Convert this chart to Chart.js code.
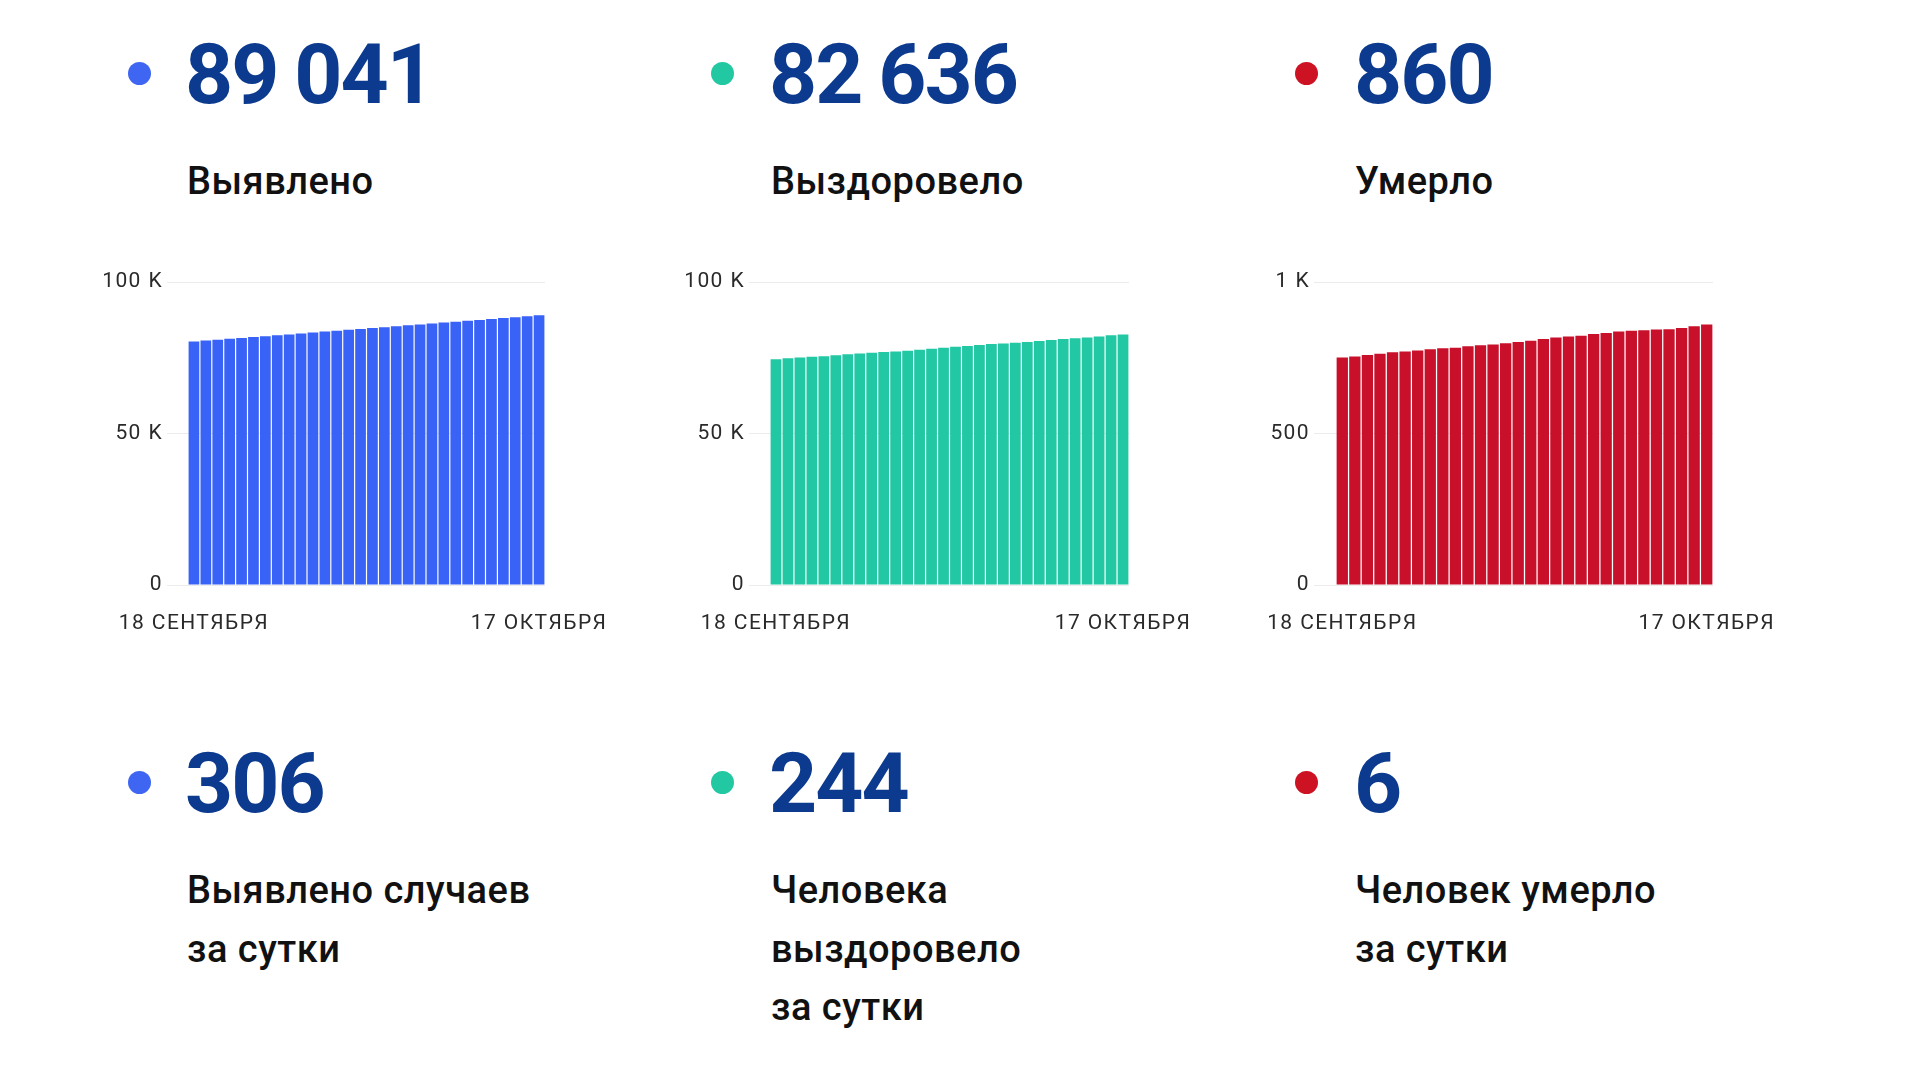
<!DOCTYPE html>
<html>
<head>
<meta charset="utf-8">
<script src="https://cdn.jsdelivr.net/npm/chart.js@4"></script>
<style>
  body { margin: 0; width: 1920px; height: 1080px; background: #fff; position: relative; overflow: hidden; font-family: Roboto, sans-serif; }
  .dot { position: absolute; width: 23px; height: 23px; border-radius: 50%; }
  .num { position: absolute; font-size: 84px; line-height: 84px; font-weight: 700; color: #0b3a8e; white-space: nowrap; letter-spacing: -2px; word-spacing: -2px; }
  .lbl { position: absolute; font-size: 38px; line-height: 58.5px; font-weight: 500; color: #111; white-space: nowrap; letter-spacing: 0.5px; }
  canvas { position: absolute; }
</style>
</head>
<body>
<div class="dot" style="left:128px;top:62px;background:#3f66f2"></div>
<div class="num" style="left:185px;top:33px">89 041</div>
<div class="lbl" style="left:187px;top:152px">Выявлено</div>

<div class="dot" style="left:711px;top:62px;background:#22c8a1"></div>
<div class="num" style="left:769px;top:33px">82 636</div>
<div class="lbl" style="left:771px;top:152px">Выздоровело</div>

<div class="dot" style="left:1295px;top:62px;background:#cc1223"></div>
<div class="num" style="left:1354px;top:33px">860</div>
<div class="lbl" style="left:1355px;top:152px">Умерло</div>

<div class="dot" style="left:128px;top:771px;background:#3f66f2"></div>
<div class="num" style="left:185px;top:742px">306</div>
<div class="lbl" style="left:187px;top:861px">Выявлено случаев<br>за сутки</div>

<div class="dot" style="left:711px;top:771px;background:#22c8a1"></div>
<div class="num" style="left:769px;top:742px">244</div>
<div class="lbl" style="left:771px;top:861px">Человека<br>выздоровело<br>за сутки</div>

<div class="dot" style="left:1295px;top:771px;background:#cc1223"></div>
<div class="num" style="left:1354px;top:742px">6</div>
<div class="lbl" style="left:1355px;top:861px">Человек умерло<br>за сутки</div>

<canvas id="casesChart" width="594" height="373" style="left:61px;top:262px"></canvas>
<canvas id="recoveredChart" width="596" height="373" style="left:643px;top:262px"></canvas>
<canvas id="deathsChart" width="614" height="373" style="left:1209px;top:262px"></canvas>

<script>
const dates = [
  '18 СЕНТЯБРЯ', '19 СЕНТЯБРЯ', '20 СЕНТЯБРЯ', '21 СЕНТЯБРЯ', '22 СЕНТЯБРЯ',
  '23 СЕНТЯБРЯ', '24 СЕНТЯБРЯ', '25 СЕНТЯБРЯ', '26 СЕНТЯБРЯ', '27 СЕНТЯБРЯ',
  '28 СЕНТЯБРЯ', '29 СЕНТЯБРЯ', '30 СЕНТЯБРЯ', '1 ОКТЯБРЯ', '2 ОКТЯБРЯ',
  '3 ОКТЯБРЯ', '4 ОКТЯБРЯ', '5 ОКТЯБРЯ', '6 ОКТЯБРЯ', '7 ОКТЯБРЯ',
  '8 ОКТЯБРЯ', '9 ОКТЯБРЯ', '10 ОКТЯБРЯ', '11 ОКТЯБРЯ', '12 ОКТЯБРЯ',
  '13 ОКТЯБРЯ', '14 ОКТЯБРЯ', '15 ОКТЯБРЯ', '16 ОКТЯБРЯ', '17 ОКТЯБРЯ',
];

// всего выявлено
const casesTotal = [
  80380, 80660, 80950, 81250, 81530, 81810, 82100, 82410, 82700, 83010,
  83320, 83630, 83940, 84220, 84500, 84790, 85100, 85410, 85690, 86000,
  86310, 86620, 86900, 87180, 87490, 87770, 88080, 88400, 88735, 89041,
];

// всего выздоровело
const recoveredTotal = [
  74530, 74860, 75080, 75300, 75530, 75860, 76190, 76410, 76640, 76860,
  77080, 77300, 77630, 77970, 78300, 78630, 78850, 79190, 79520, 79740,
  79960, 80180, 80520, 80850, 81180, 81420, 81680, 81980, 82392, 82636,
];

// всего умерло
const deathsTotal = [
  751, 754, 759, 763, 768, 771, 774, 778, 781, 783,
  788, 791, 794, 798, 802, 806, 812, 817, 820, 823,
  828, 832, 837, 839, 841, 843, 844, 848, 854, 860,
];

const kTicks = [0, 50000, 100000];
const kTickLabels = ['0', '50 K', '100 K'];
const deathTicks = [0, 500, 1000];
const deathTickLabels = ['0', '500', '1 K'];

Chart.defaults.font.family = 'Roboto, sans-serif';
Chart.defaults.color = '#2a2a2a';

// разрядка подписей осей, как на картинке
const spacingPlugin = {
  id: 'spacing',
  beforeUpdate(chart) { chart.ctx.letterSpacing = '1.4px'; },
  beforeDraw(chart) { chart.ctx.letterSpacing = '1.4px'; },
};

function makeChart(id, values, color, ticks, tickLabels, tickLen) {
  const ctx = document.getElementById(id).getContext('2d');
  const last = values.length - 1;
  return new Chart(ctx, {
    type: 'bar',
    data: {
      labels: dates,
      datasets: [
        {
          data: values,
          backgroundColor: color,
          borderWidth: 0,
          barPercentage: 0.9,
          categoryPercentage: 1,
        },
      ],
    },
    plugins: [spacingPlugin],
    options: {
      responsive: false,
      animation: false,
      layout: { padding: { top: 20, right: 110, left: 0, bottom: 0 } },
      plugins: { legend: { display: false }, tooltip: { enabled: false } },
      scales: {
        x: {
          grid: { display: false, drawTicks: false },
          border: { display: false },
          ticks: {
            autoSkip: false,
            maxRotation: 0,
            padding: 26,
            font: { size: 21 },
            callback: (v, i) => (i === 0 || i === last ? dates[i] : ''),
          },
          afterFit: (scale) => { scale.height = 50; },
        },
        y: {
          min: ticks[0],
          max: ticks[ticks.length - 1],
          grid: { color: '#ececec', lineWidth: 1, drawTicks: true, tickLength: tickLen },
          border: { display: false },
          ticks: {
            padding: 4,
            font: { size: 21 },
            stepSize: ticks[1] - ticks[0],
            callback: (v) => tickLabels[ticks.indexOf(v)],
          },
          afterFit: (scale) => { scale.width = 127; },
        },
      },
    },
  });
}

makeChart('casesChart', casesTotal, '#3962f6', kTicks, kTickLabels, 21);
makeChart('recoveredChart', recoveredTotal, '#22c8a3', kTicks, kTickLabels, 21);
makeChart('deathsChart', deathsTotal, '#c8102a', deathTicks, deathTickLabels, 22);
</script>
</body>
</html>
